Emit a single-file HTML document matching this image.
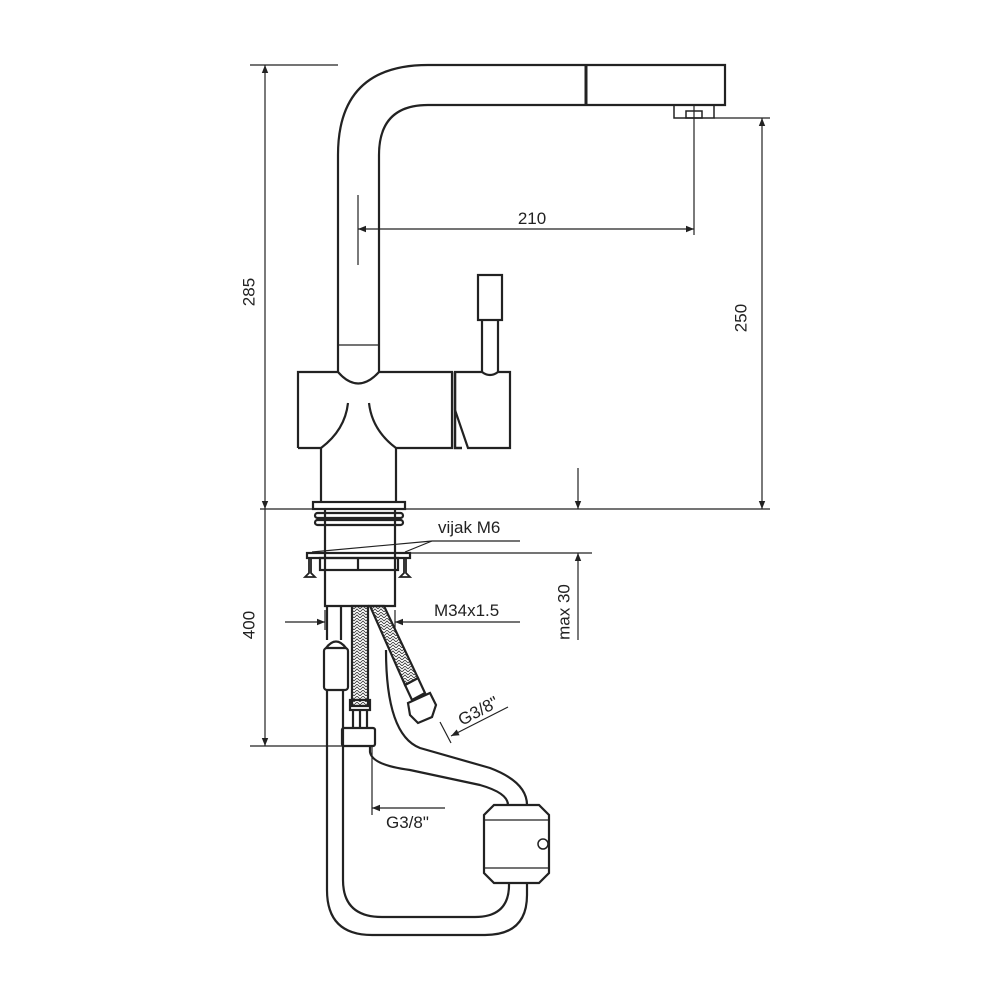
<!DOCTYPE html>
<html><head><style>html,body{margin:0;padding:0;background:#fff}svg{display:block}text{font-family:"Liberation Sans",sans-serif;fill:#222}</style></head><body>
<svg width="1000" height="1000" viewBox="0 0 1000 1000" xmlns="http://www.w3.org/2000/svg">
<defs>
<marker id="a" viewBox="0 0 10 10" refX="10" refY="5" markerWidth="10" markerHeight="8" orient="auto-start-reverse" markerUnits="userSpaceOnUse"><path d="M0,1 L10,5 L0,9 z" fill="#222"/></marker>
<pattern id="br" width="6" height="6" patternUnits="userSpaceOnUse"><path d="M0,3 L3,0 L6,3 M0,6 L3,3 L6,6" stroke="#333" stroke-width="0.8" fill="none"/></pattern>
</defs>
<g fill="none" stroke="#222" stroke-width="2.2">
<!-- spout -->
<path d="M338,372 L338,155 Q338,65 428,65 L725,65 L725,105 L428,105 Q379,105 379,155 L379,372"/>
<line x1="586" y1="65" x2="586" y2="105" stroke-width="3"/>
<path d="M338,345 L379,345" stroke-width="1.2"/>
<rect x="674" y="105" width="40" height="13" stroke-width="1.5"/>
<rect x="686" y="111" width="16" height="7" stroke-width="1.5"/>
<!-- body -->
<path d="M298,448 L298,372 L338,372 Q358,395 379,372 L452,372 L452,448 L396,448 L396,502"/>
<path d="M298,448 L321,448 L321,502"/>
<path d="M348,403 Q345,430 321,448 M369,403 Q372,430 396,448"/>
<path d="M455,372 L482,372 Q490,378 498,372 L510,372 L510,448 L468,448 L455,410 Z"/>
<path d="M455,372 L455,448 L462,448" stroke-width="2.5"/>
<rect x="478" y="275" width="24" height="45"/>
<path d="M482,320 L482,372 M498,320 L498,372"/>
<!-- base -->
<rect x="313" y="502" width="92" height="7"/>
<rect x="315" y="513" width="88" height="5" rx="2.5"/>
<rect x="315" y="520" width="88" height="5" rx="2.5"/>
<path d="M325,509 L325,606 L395,606 L395,509"/>
<rect x="307" y="553" width="103" height="5"/>
<rect x="320" y="558" width="78" height="12"/>
<line x1="358" y1="558" x2="358" y2="570"/>
<path d="M309,558 l0,15 l-4,4 l10,0 l-4,-4 l0,-15 M404,558 l0,15 l-4,4 l10,0 l-4,-4 l0,-15" stroke-width="1.8"/>
<!-- left pipe -->
<path d="M327,606 L327,640 M341,606 L341,640"/>
<rect x="324" y="648" width="24" height="42" rx="3"/>
<path d="M326,648 Q336,635 346,648"/>
<!-- middle braided -->
<rect x="352" y="606" width="16" height="100" fill="url(#br)"/>
<rect x="350" y="700" width="20" height="10"/>
<path d="M353,710 L353,728 M360,710 L360,728 M367,710 L367,728"/>
<rect x="342" y="728" width="33" height="18" rx="2"/>
<!-- right braided -->
<path d="M370,606 L384,606 L418,678 L405,685 Z" fill="url(#br)"/>
<path d="M405,685 L418,678 L425,693 L412,700 Z"/>
<path d="M408,703 l22,-10 l6,12 l-4,12 l-14,6 l-8,-8 z"/>
<!-- hose loop -->
<path d="M327,690 L327,890 Q327,935 372,935 L485,935 Q527,935 527,895 L527,883"/>
<path d="M343,690 L343,880 Q343,917 382,917 L475,917 Q509,917 509,885 L509,883"/>
<path d="M370,746 L370,752 Q372,765 410,770 L480,785 Q508,793 508,805"/>
<path d="M386,650 Q386,735 420,748 L490,768 Q527,782 527,805"/>
<path d="M494,805 L539,805 L549,815 L549,873 L539,883 L494,883 L484,873 L484,815 Z" fill="#fff"/>
<path d="M484,820 L549,820 M484,868 L549,868" stroke-width="1.2"/>
<circle cx="543" cy="844" r="5" stroke-width="1.5"/>
</g>
<!-- dimension lines -->
<g stroke="#222" stroke-width="1.2" fill="none">
<line x1="250" y1="65" x2="338" y2="65"/>
<line x1="265" y1="65" x2="265" y2="509" marker-start="url(#a)" marker-end="url(#a)"/>
<line x1="260" y1="509" x2="770" y2="509"/>
<line x1="714" y1="118" x2="770" y2="118"/>
<line x1="762" y1="118" x2="762" y2="509" marker-start="url(#a)" marker-end="url(#a)"/>
<line x1="358" y1="195" x2="358" y2="265"/>
<line x1="694" y1="105" x2="694" y2="235"/>
<line x1="358" y1="229" x2="694" y2="229" marker-start="url(#a)" marker-end="url(#a)"/>
<line x1="578" y1="468" x2="578" y2="509" marker-end="url(#a)"/>
<line x1="578" y1="553" x2="578" y2="640" marker-start="url(#a)"/>
<line x1="405" y1="553" x2="592" y2="553"/>
<line x1="265" y1="509" x2="265" y2="746" marker-end="url(#a)"/>
<line x1="250" y1="746" x2="370" y2="746"/>
<line x1="285" y1="622" x2="325" y2="622" marker-end="url(#a)"/>
<line x1="520" y1="622" x2="395" y2="622" marker-end="url(#a)"/>
<line x1="325" y1="610" x2="325" y2="630"/>
<line x1="395" y1="610" x2="395" y2="630"/>
<line x1="520" y1="541" x2="432" y2="541"/>
<line x1="432" y1="541" x2="312" y2="552"/>
<line x1="432" y1="541" x2="405" y2="552"/>
<line x1="372" y1="746" x2="372" y2="815"/>
<line x1="445" y1="808" x2="372" y2="808" marker-end="url(#a)"/>
<line x1="440" y1="722" x2="451" y2="743"/>
<line x1="508" y1="707" x2="451" y2="736" marker-end="url(#a)"/>
</g>
<g font-size="17">
<text x="250" y="292" transform="rotate(-90 250 292)" text-anchor="middle" dominant-baseline="middle">285</text>
<text x="742" y="318" transform="rotate(-90 742 318)" text-anchor="middle" dominant-baseline="middle">250</text>
<text x="532" y="224" text-anchor="middle">210</text>
<text x="250" y="625" transform="rotate(-90 250 625)" text-anchor="middle" dominant-baseline="middle">400</text>
<text x="565" y="612" transform="rotate(-90 565 612)" text-anchor="middle" dominant-baseline="middle">max 30</text>
<text x="438" y="533">vijak M6</text>
<text x="434" y="616">M34x1.5</text>
<text x="386" y="828">G3/8"</text>
<text x="462" y="726" transform="rotate(-28 462 726)">G3/8"</text>
</g>
</svg>
</body></html>
